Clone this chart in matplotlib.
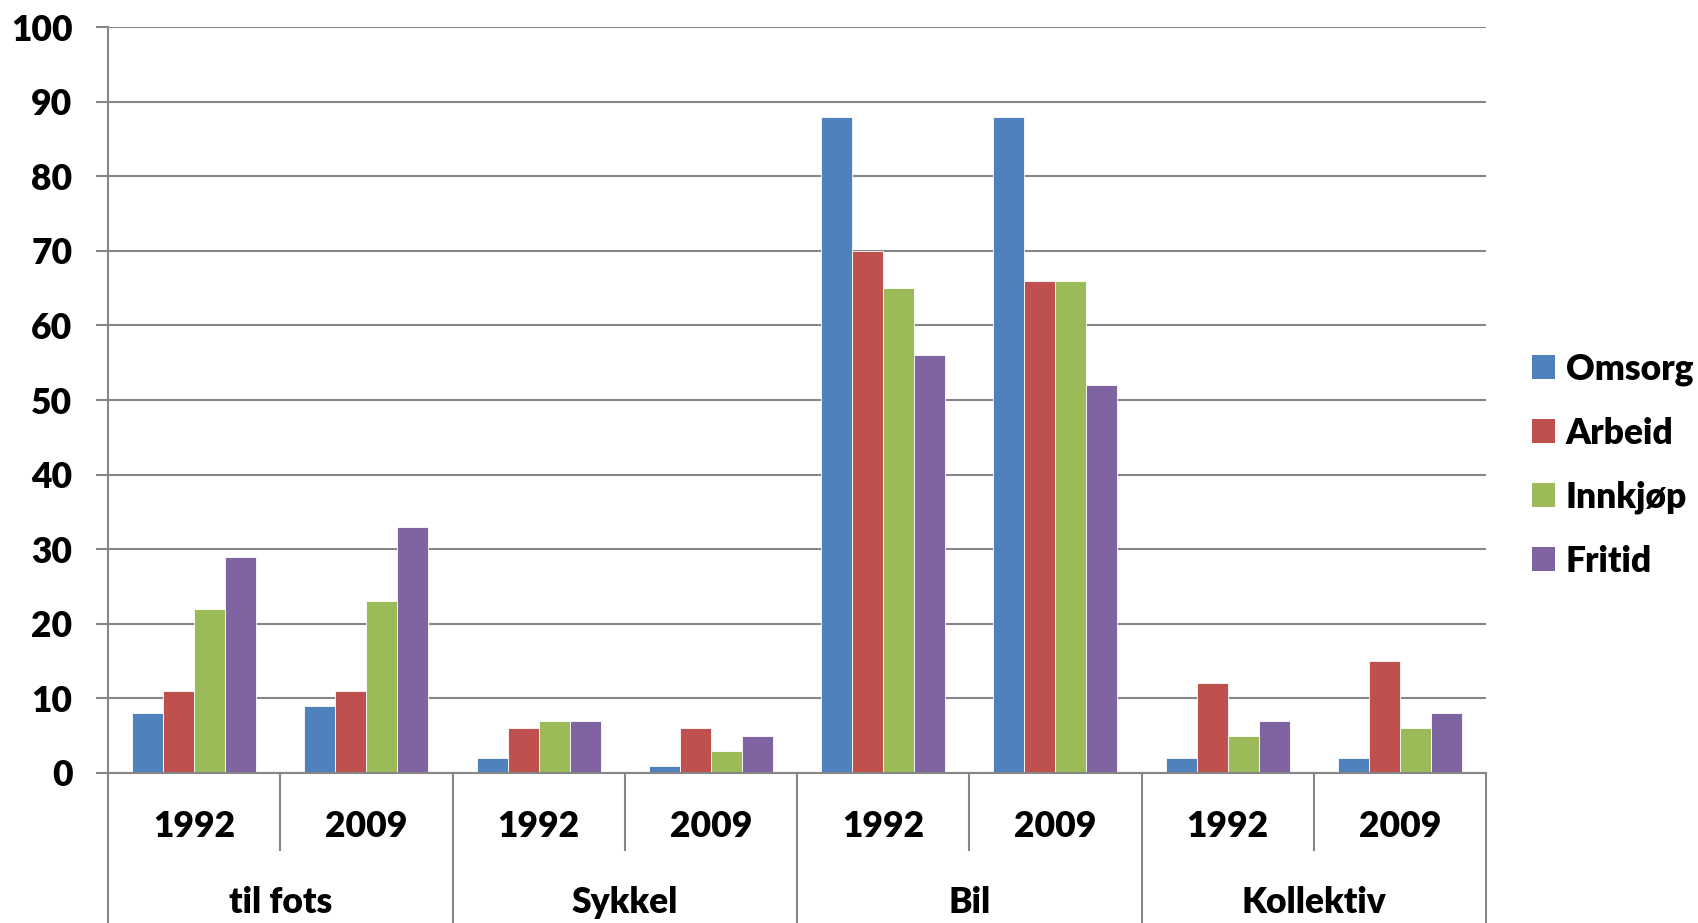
import numpy as np
import matplotlib.pyplot as plt
from matplotlib.patches import Patch
import matplotlib.transforms as mtransforms

plt.rcParams['font.family'] = ['Lato', 'DejaVu Sans']
plt.rcParams['font.weight'] = 'heavy'

modes = ['til fots', 'Sykkel', 'Bil', 'Kollektiv']
years = ['1992', '2009']
purposes = ['Omsorg', 'Arbeid', 'Innkjøp', 'Fritid']
colors = ['#4F81BD', '#C0504D', '#9BBB59', '#8064A2']

# one entry per (mode, year) cluster
omsorg = [8, 9, 2, 1, 88, 88, 2, 2]
arbeid = [11, 11, 6, 6, 70, 66, 12, 15]
innkjop = [22, 23, 7, 3, 65, 66, 5, 6]
fritid = [29, 33, 7, 5, 56, 52, 7, 8]
series = [omsorg, arbeid, innkjop, fritid]

grid_col = '#868686'
fs = 25.5

fig = plt.figure(figsize=(16.98, 9.23), dpi=100)
ax = fig.add_axes([108 / 1698, 1 - 773 / 923, (1486 - 108) / 1698, (773 - 27) / 923])

x = np.arange(len(omsorg))
w = 0.18
for i, (vals, c) in enumerate(zip(series, colors)):
    ax.bar(x + (i - 1.5) * w, vals, width=w, color=c, edgecolor='white',
           linewidth=0.6, label=purposes[i], zorder=3)

ax.set_xlim(-0.5, len(x) - 0.5)
ax.set_ylim(0, 100)
ax.set_yticks(np.arange(0, 101, 10))
ax.yaxis.grid(True, color=grid_col, linewidth=1.5, zorder=0)
ax.tick_params(axis='y', length=8.6, width=1.5, color=grid_col, pad=17,
               labelsize=fs)
for lab in ax.get_yticklabels():
    lab.set_fontweight('heavy')

for s in ['top', 'right']:
    ax.spines[s].set_visible(False)
for s in ['left', 'bottom']:
    ax.spines[s].set_color(grid_col)
    ax.spines[s].set_linewidth(1.5)
ax.spines['bottom'].set_zorder(4)

# two-level category axis below the plot
ax.set_xticks([])
trans = mtransforms.blended_transform_factory(ax.transData, ax.transAxes)
for k in range(len(x)):
    ax.text(k, -0.072, years[k % 2], transform=trans, ha='center', va='center',
            fontsize=fs, fontweight='heavy')
for g, name in enumerate(modes):
    ax.text(2 * g + 0.5, -0.173, name, transform=trans, ha='center',
            va='center', fontsize=fs, fontweight='heavy')
for b in np.arange(0.5, len(x), 2):
    ax.plot([b, b], [0, -0.103], transform=trans, color=grid_col, lw=1.5,
            clip_on=False)
for b in np.arange(-0.5, len(x) + 0.5, 2):
    ax.plot([b, b], [0, -0.21], transform=trans, color=grid_col, lw=1.5,
            clip_on=False)

handles = [Patch(facecolor=c, edgecolor='none') for c in colors]
fig.legend(handles, purposes, loc='center left',
           bbox_to_anchor=(1532 / 1698, 1 - 465 / 923), frameon=False,
           prop={'weight': 'heavy', 'size': fs},
           handlelength=0.65, handleheight=0.65, handletextpad=0.3,
           labelspacing=0.87, borderpad=0, borderaxespad=0)

fig.savefig('out.png', dpi=100)
